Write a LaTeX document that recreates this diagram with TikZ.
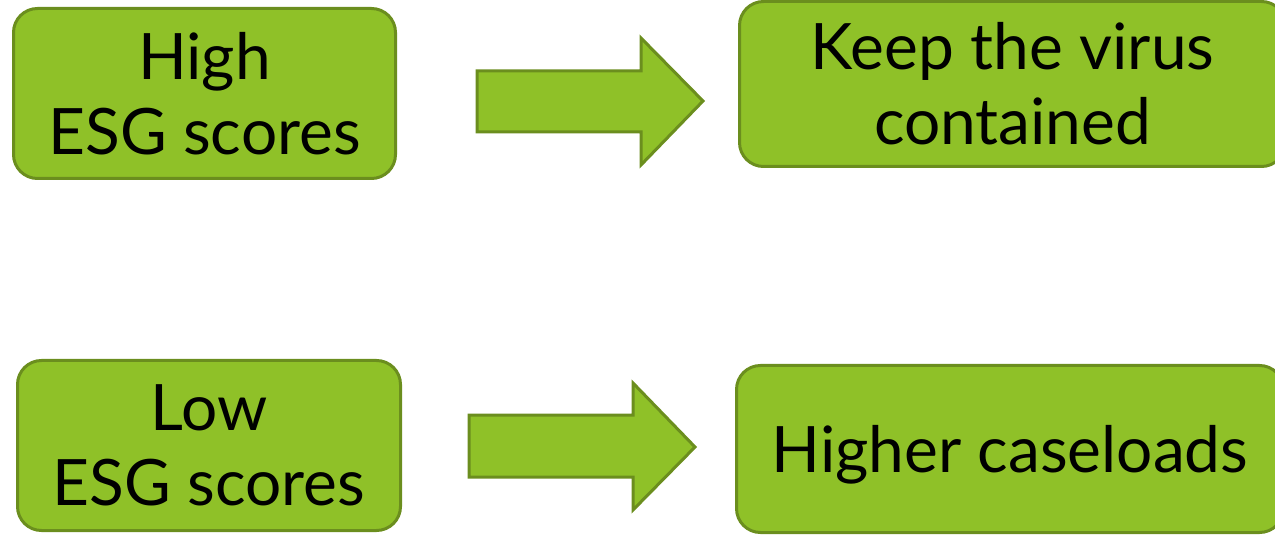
\documentclass[tikz,border=0pt]{standalone}
\usepackage{fontspec}
\setmainfont{Lato}
\definecolor{boxfill}{HTML}{8FC128}
\definecolor{boxline}{HTML}{6B8E1E}
\begin{document}
\begin{tikzpicture}[x=1pt,y=-1pt,
  box/.style={draw=boxline,fill=boxfill,line width=3pt,rounded corners=24pt,inner sep=0pt,
    font=\fontsize{64}{75}\selectfont,align=center,text=black},
  blockarrow/.style={draw=boxline,fill=boxfill,line width=3pt,line join=miter}]
\useasboundingbox (0,0) rectangle (1275,537);
\node[box,minimum width=382pt,minimum height=170pt] (hi) at (204.5,93.5) {High\\ESG scores};
\node[box,minimum width=546pt,minimum height=165pt] (keep) at (1012.5,84) {Keep the virus\\contained};
\node[box,minimum width=383pt,minimum height=170pt] (lo) at (209,445.5) {Low\\ESG scores};
\node[box,minimum width=547pt,minimum height=167pt,text depth=0pt] (higher) at (1010,449) {Higher caseloads};
\draw[blockarrow] (477,71) -- (641,71) -- (641,38) -- (703,101) -- (641,165) -- (641,132) -- (477,132) -- cycle;
\draw[blockarrow] (469,415) -- (633,415) -- (633,383) -- (695,447) -- (633,510) -- (633,477) -- (469,477) -- cycle;
\end{tikzpicture}
\end{document}
